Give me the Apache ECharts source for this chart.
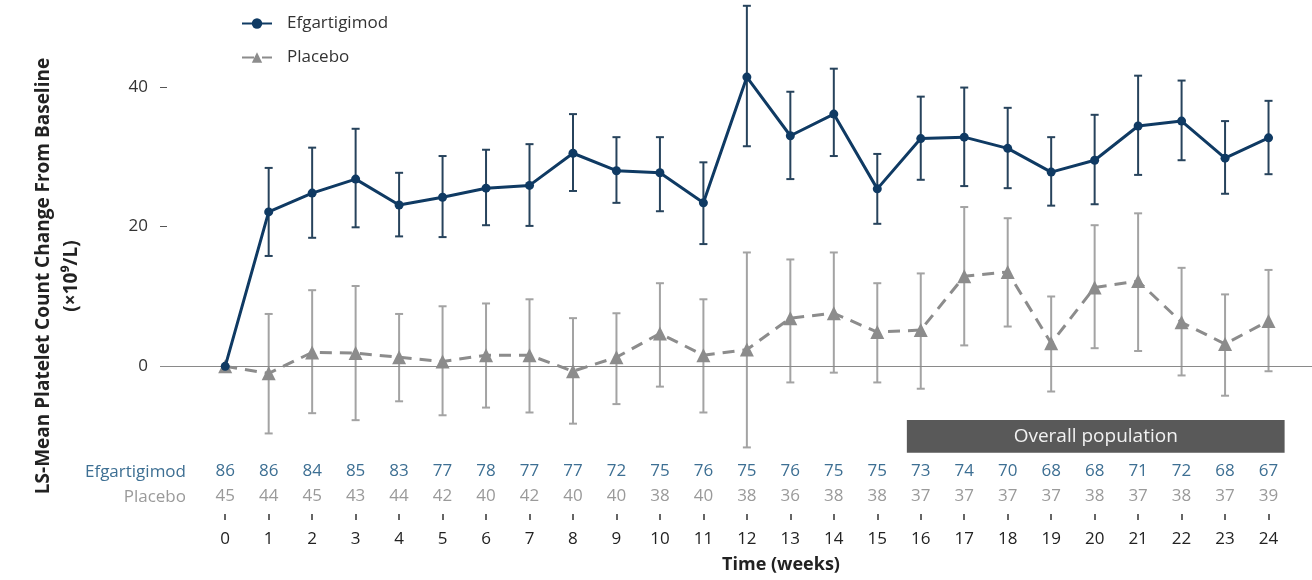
<!DOCTYPE html>
<html>
<head>
<meta charset="UTF-8">
<title>Platelet count change</title>
<script src="https://cdn.jsdelivr.net/npm/echarts@6/dist/echarts.min.js"></script>
<style>
  html, body { margin: 0; padding: 0; background: #fff; }
  #main { width: 1312px; height: 580px; }
</style>
</head>
<body>
<div id="main"></div>
<script>
// weeks on study
var weeks = [0, 1, 2, 3, 4, 5, 6, 7, 8, 9, 10, 11, 12, 13, 14, 15, 16, 17, 18, 19, 20, 21, 22, 23, 24];

// efgartigimod LS-mean change and error bar ends
var efgMean = [0, 22.1, 24.8, 26.8, 23.1, 24.2, 25.5, 25.9, 30.5, 28.0, 27.7, 23.4, 41.4, 33.0, 36.1, 25.4, 32.6, 32.8, 31.2, 27.8, 29.5, 34.4, 35.1, 29.8, 32.7];
var efgHigh = [0, 28.4, 31.3, 34.0, 27.7, 30.1, 31.0, 31.8, 36.1, 32.8, 32.8, 29.2, 51.6, 39.3, 42.6, 30.4, 38.6, 39.9, 37.0, 32.8, 36.0, 41.6, 40.9, 35.1, 38.0];
var efgLow  = [0, 15.8, 18.4, 19.9, 18.6, 18.5, 20.2, 20.1, 25.1, 23.4, 22.2, 17.5, 31.5, 26.8, 30.1, 20.4, 26.7, 25.8, 25.5, 23.0, 23.2, 27.4, 29.5, 24.7, 27.5];

// placebo
var pboMean = [0, -1.0, 2.0, 1.9, 1.3, 0.7, 1.6, 1.6, -0.7, 1.3, 4.7, 1.6, 2.4, 6.9, 7.6, 4.9, 5.2, 12.9, 13.5, 3.3, 11.3, 12.2, 6.3, 3.2, 6.5];
var pboHigh = [0, 7.5, 10.9, 11.5, 7.5, 8.6, 9.0, 9.6, 6.9, 7.6, 11.9, 9.6, 16.3, 15.3, 16.3, 11.9, 13.3, 22.8, 21.2, 10.0, 20.2, 21.9, 14.1, 10.3, 13.8];
var pboLow  = [0, -9.6, -6.7, -7.7, -5.0, -7.0, -5.9, -6.6, -8.2, -5.4, -2.9, -6.6, -11.6, -2.3, -0.9, -2.3, -3.2, 3.0, 5.7, -3.6, 2.6, 2.2, -1.3, -4.2, -0.7];

// patients at each visit
var efgN = [86, 86, 84, 85, 83, 77, 78, 77, 77, 72, 75, 76, 75, 76, 75, 75, 73, 74, 70, 68, 68, 71, 72, 68, 67];
var pboN = [45, 44, 45, 43, 44, 42, 40, 42, 40, 40, 38, 40, 38, 36, 38, 38, 37, 37, 37, 37, 38, 37, 38, 37, 39];

var yTicks = [0, 20, 40];

var EFG = '#0f3a63';
var PBO = '#8c8c8c';
var FONT = 'Open Sans';

function pairs(ys) {
  return weeks.map(function (w, i) { return [w, ys[i]]; });
}
function bars(lo, hi) {
  return weeks.map(function (w, i) { return [w, lo[i], hi[i]]; });
}

function errorBar(color) {
  return function (params, api) {
    var x = api.value(0);
    var a = api.coord([x, api.value(1)]);
    var b = api.coord([x, api.value(2)]);
    var hw = 4;
    var st = { stroke: color, lineWidth: 2 };
    return {
      type: 'group',
      children: [
        { type: 'line', shape: { x1: a[0], y1: a[1], x2: b[0], y2: b[1] }, style: st },
        { type: 'line', shape: { x1: a[0] - hw, y1: a[1], x2: a[0] + hw, y2: a[1] }, style: st },
        { type: 'line', shape: { x1: b[0] - hw, y1: b[1], x2: b[0] + hw, y2: b[1] }, style: st }
      ]
    };
  };
}

function countAxis(offset, arr, color) {
  return {
    type: 'value', min: -1.5, max: 25, position: 'bottom', offset: offset,
    axisLine: { show: false, onZero: false }, axisTick: { show: false }, splitLine: { show: false },
    axisLabel: {
      customValues: weeks, margin: 3, color: color, fontFamily: FONT, fontSize: 17,
      formatter: function (v) { return String(arr[weeks.indexOf(v)]); }
    }
  };
}

var chart = echarts.init(document.getElementById('main'));
chart.setOption({
  animation: false,
  textStyle: { fontFamily: FONT },
  grid: { left: 160, right: 0, top: 3, bottom: 120 },
  legend: {
    orient: 'vertical', left: 236, top: 10, itemGap: 17, itemWidth: 30, itemHeight: 13,
    data: ['Efgartigimod', 'Placebo'],
    textStyle: { color: '#333', fontSize: 17, fontFamily: FONT, padding: [0, 0, 0, 10] }
  },
  xAxis: [
    {
      type: 'value', min: -1.5, max: 25, position: 'bottom', offset: 54,
      axisLine: { show: false, onZero: false }, splitLine: { show: false },
      axisTick: { customValues: weeks, length: 6, lineStyle: { color: '#333', width: 1.5 } },
      axisLabel: { customValues: weeks, margin: 17, color: '#222', fontSize: 17, fontFamily: FONT }
    },
    countAxis(0, efgN, '#3d6f93'),
    countAxis(25, pboN, '#9a9a9a')
  ],
  yAxis: {
    type: 'value', min: -13.4, max: 52,
    axisLine: { show: false, onZero: false }, splitLine: { show: false },
    axisTick: { inside: true, length: 7, customValues: yTicks, lineStyle: { color: '#555' } },
    axisLabel: { customValues: yTicks, margin: 12, color: '#333', fontSize: 17, fontFamily: FONT }
  },
  series: [
    {
      name: 'Placebo SE', type: 'custom', renderItem: errorBar('#a3a3a3'),
      encode: { x: 0, y: [1, 2] }, data: bars(pboLow, pboHigh), z: 2
    },
    {
      name: 'Placebo', type: 'line', data: pairs(pboMean), z: 3,
      symbol: 'triangle', symbolSize: 14,
      itemStyle: { color: PBO },
      lineStyle: { color: PBO, width: 3, type: [12, 8] },
      markLine: {
        silent: true, symbol: 'none', label: { show: false },
        lineStyle: { color: '#8a8a8a', width: 1, type: 'solid' },
        data: [{ yAxis: 0 }]
      },
      markArea: {
        silent: true,
        itemStyle: { color: '#595959' },
        label: { show: true, position: 'inside', color: '#f2f2f2', fontSize: 19, fontFamily: FONT },
        data: [[{ name: 'Overall population', xAxis: 15.68, yAxis: -7.66 }, { xAxis: 24.37, yAxis: -12.38 }]]
      }
    },
    {
      name: 'Efgartigimod SE', type: 'custom', renderItem: errorBar('#27435c'),
      encode: { x: 0, y: [1, 2] }, data: bars(efgLow, efgHigh), z: 4
    },
    {
      name: 'Efgartigimod', type: 'line', data: pairs(efgMean), z: 5,
      symbol: 'circle', symbolSize: 9,
      itemStyle: { color: EFG },
      lineStyle: { color: EFG, width: 3 }
    }
  ],
  graphic: [
    {
      type: 'text', x: 58, y: 276, rotation: Math.PI / 2,
      style: {
        text: 'LS-Mean Platelet Count Change From Baseline\n(×10⁹/L)',
        align: 'center', verticalAlign: 'middle', lineHeight: 28,
        fontFamily: FONT, fontSize: 19, fontWeight: 'bold', fill: '#222'
      }
    },
    {
      type: 'text', x: 186, y: 472,
      style: { text: 'Efgartigimod', align: 'right', verticalAlign: 'middle', fontFamily: FONT, fontSize: 17, fill: '#3d6f93' }
    },
    {
      type: 'text', x: 186, y: 497,
      style: { text: 'Placebo', align: 'right', verticalAlign: 'middle', fontFamily: FONT, fontSize: 17, fill: '#9a9a9a' }
    },
    {
      type: 'text', x: 781, y: 565,
      style: { text: 'Time (weeks)', align: 'center', verticalAlign: 'middle', fontFamily: FONT, fontSize: 18, fontWeight: 'bold', fill: '#222' }
    }
  ]
});
</script>
</body>
</html>
